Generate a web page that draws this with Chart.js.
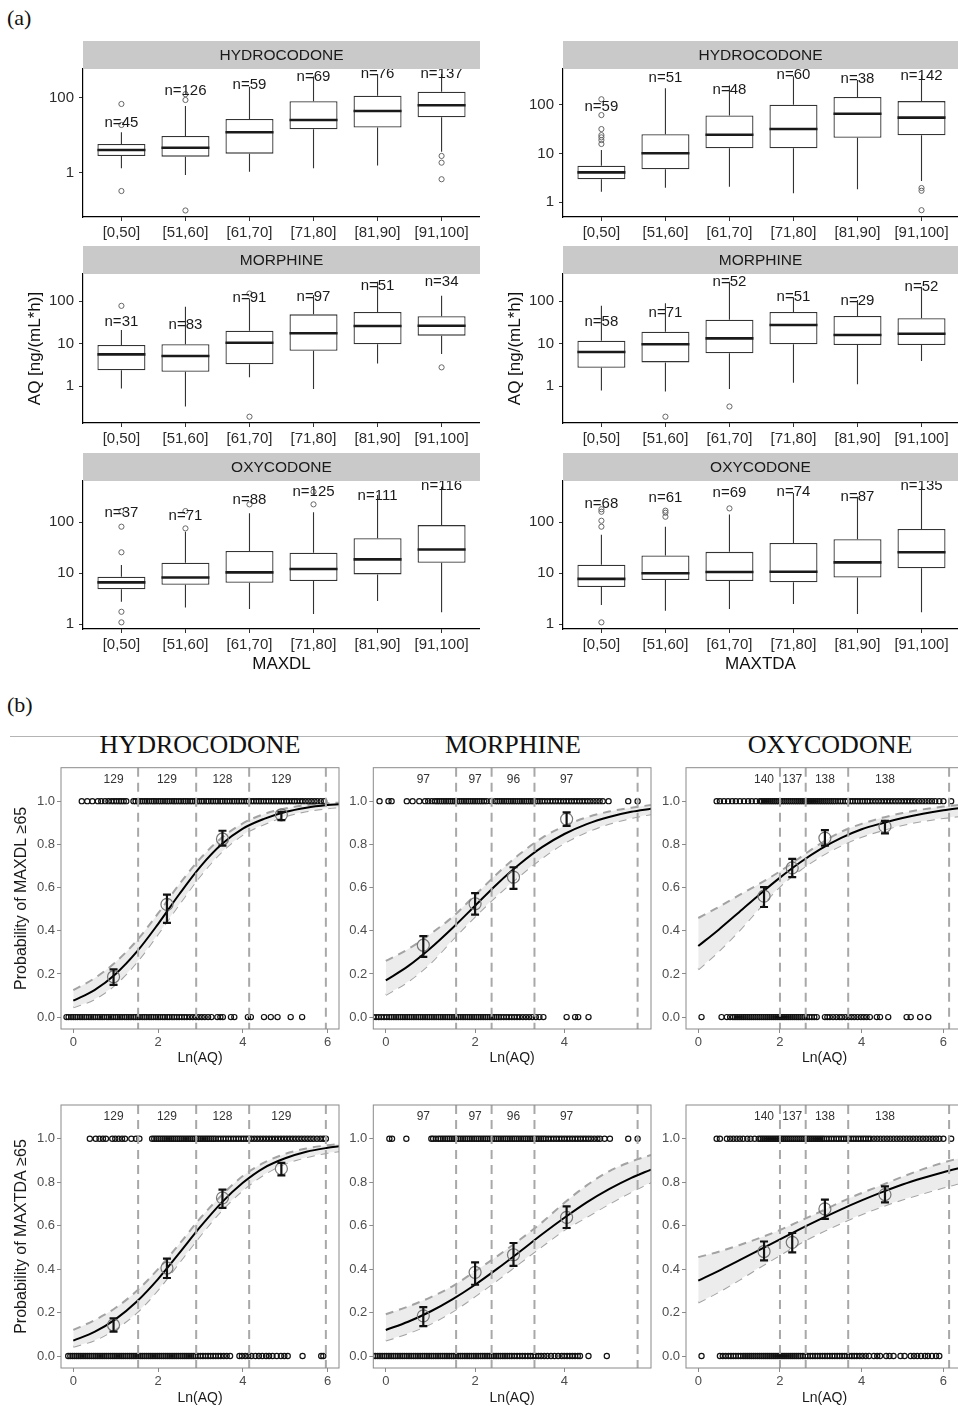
<!DOCTYPE html>
<html>
<head>
<meta charset="utf-8">
<script src="https://cdn.jsdelivr.net/npm/chart.js@4.4.0/dist/chart.umd.min.js"></script>
<style>
  body { margin:0; background:#fff; width:958px; height:1406px; overflow:hidden; position:relative; }
  canvas { position:absolute; }
  .lab { position:absolute; font-family:"Liberation Serif", "Times New Roman", serif; color:#111; line-height:1; white-space:nowrap; }
  .col { text-align:center; font-size:26px; top:732px; }
</style>
</head>
<body>
<div class="lab" style="left:7px;top:7px;font-size:22px">(a)</div>
<div class="lab" style="left:7px;top:694px;font-size:22px">(b)</div>
<div style="position:absolute;left:10px;top:736px;width:948px;height:1px;background:#b4b4b4"></div>
<div class="lab col" style="left:0px;width:400px">HYDROCODONE</div>
<div class="lab col" style="left:363px;width:300px">MORPHINE</div>
<div class="lab col" style="left:680px;width:300px">OXYCODONE</div>

<canvas id="a1" width="480" height="209" style="left:0px;top:38px"></canvas>
<canvas id="a2" width="478" height="209" style="left:480px;top:38px"></canvas>
<canvas id="b1" width="480" height="210" style="left:0px;top:243px"></canvas>
<canvas id="b2" width="478" height="210" style="left:480px;top:243px"></canvas>
<canvas id="c1" width="480" height="231" style="left:0px;top:450px"></canvas>
<canvas id="c2" width="478" height="231" style="left:480px;top:450px"></canvas>

<canvas id="d1" width="340" height="309" style="left:0px;top:760px"></canvas>
<canvas id="d2" width="312" height="309" style="left:340px;top:760px"></canvas>
<canvas id="d3" width="320" height="309" style="left:650px;top:760px"></canvas>
<canvas id="e1" width="340" height="310" style="left:0px;top:1098px"></canvas>
<canvas id="e2" width="312" height="310" style="left:340px;top:1098px"></canvas>
<canvas id="e3" width="320" height="310" style="left:650px;top:1098px"></canvas>

<script>
// ---- (a) box plots, AQ by score group ----
var groups = ['[0,50]', '[51,60]', '[61,70]', '[71,80]', '[81,90]', '[91,100]'];

// hydrocodone / MAXDL
var bxHdlQ1  = [2.84, 2.72, 3.27, 14.6, 16.2, 30.5];
var bxHdlMed = [4.1, 4.7, 12.2, 25.9, 45, 64];
var bxHdlQ3  = [5.9, 9.7, 27.5, 81.5, 115, 147];
var bxHdlLo  = [1.33, 0.88, 1.08, 1.33, 1.57, 3.7];
var bxHdlHi  = [12.2, 61, 200, 370, 437, 437];
var bxHdlOut = [[0,69],[0,19],[0,0.33],[1,88],[1,126],[1,0.1],[5,2.84],[5,1.88],[5,0.68]];
var bxHdlN   = [45, 126, 59, 69, 76, 137];
var bxHdlNy  = [22, 157, 222, 356, 437, 437];

// hydrocodone / MAXTDA
var bxHdaQ1  = [2.97, 4.76, 12.9, 12.9, 21.2, 23.8];
var bxHdaMed = [4.13, 10.2, 24.5, 32, 66, 55];
var bxHdaQ3  = [5.65, 25, 61, 101, 146, 120];
var bxHdaLo  = [1.65, 2.0, 2.09, 1.53, 1.85, 2.74];
var bxHdaHi  = [11.9, 220, 250, 390, 325, 412];
var bxHdaOut = [[0,131],[0,62],[0,32],[0,24],[0,21.6],[0,19],[0,15.8],[5,1.97],[5,1.73],[5,0.69]];
var bxHdaN   = [59, 51, 48, 60, 38, 142];
var bxHdaNy  = [92, 363, 203, 412, 341, 393];

// morphine / MAXDL
var bxMdlQ1  = [2.34, 2.17, 3.24, 6.77, 9.6, 15.3];
var bxMdlMed = [5.57, 5.1, 10.4, 17.4, 25.8, 26.2];
var bxMdlQ3  = [9.2, 9.6, 20, 48.6, 55, 43.7];
var bxMdlLo  = [0.88, 0.33, 1.6, 0.85, 3.4, 5.66];
var bxMdlHi  = [20.8, 73, 115, 138, 283, 133];
var bxMdlOut = [[0,77],[2,150],[2,0.19],[5,2.75]];
var bxMdlN   = [31, 83, 91, 97, 51, 34];
var bxMdlNy  = [31.6, 27, 116, 122, 225, 284];

// morphine / MAXTDA
var bxMdaQ1  = [2.7, 3.6, 5.9, 9.6, 9.2, 9.2];
var bxMdaMed = [6.3, 9.6, 13.2, 27.2, 15.9, 17];
var bxMdaQ3  = [11.6, 19, 36.3, 55, 44.4, 39.2];
var bxMdaLo  = [0.78, 0.74, 0.85, 1.2, 1.1, 3.9];
var bxMdaHi  = [77, 88, 283, 122, 105, 217];
var bxMdaOut = [[1,0.19],[2,0.33]];
var bxMdaN   = [58, 71, 52, 51, 29, 52];
var bxMdaNy  = [32.6, 53, 284, 122, 101, 217];

// oxycodone / MAXDL
var bxOdlQ1  = [4.79, 5.9, 6.45, 7, 9.4, 15.9];
var bxOdlMed = [6.57, 8.2, 10.3, 12, 18.5, 29];
var bxOdlQ3  = [8.46, 15.9, 27, 25, 48, 87];
var bxOdlLo  = [2.74, 2.12, 1.97, 1.57, 2.82, 1.7];
var bxOdlHi  = [14.3, 64.5, 148, 155, 338, 492];
var bxOdlOut = [[0,164],[0,81],[0,25.5],[0,1.74],[0,1.08],[1,164],[1,75],[2,222],[3,222],[3,393]];
var bxOdlN   = [37, 71, 88, 125, 111, 116];
var bxOdlNy  = [152, 131, 270, 387, 323, 508];

// oxycodone / MAXTDA
var bxOdaQ1  = [5.3, 7.3, 7, 6.6, 8.2, 12.4];
var bxOdaMed = [7.7, 9.9, 10.5, 10.6, 16.2, 25.5];
var bxOdaQ3  = [14.5, 22, 26, 39, 46, 73];
var bxOdaLo  = [2.36, 1.82, 1.97, 2.47, 1.57, 1.7];
var bxOdaHi  = [56, 81, 141, 370, 314, 490];
var bxOdaOut = [[0,178],[0,159],[0,106],[0,81],[0,1.08],[1,167],[1,152],[1,127],[2,185]];
var bxOdaN   = [68, 61, 69, 74, 87, 135];
var bxOdaNy  = [225, 300, 365, 393, 314, 508];

// ---- (b) logistic fits vs Ln(AQ) ----
var pTicks = [0, 0.2, 0.4, 0.6, 0.8, 1.0];

var lgHydX    = [0,0.5,1,1.5,2,2.5,3,3.5,4,4.5,5,5.5,6,6.27];
var lgHydMx   = [0.95, 2.21, 3.52, 4.91];
var lgHydCuts = [1.53, 2.9, 4.15, 5.96];
var lgHydN    = [129, 129, 128, 129];

var lgMorX    = [0,0.5,1,1.5,2,2.5,3,3.5,4,4.5,5,5.5,5.94];
var lgMorMx   = [0.84, 2.0, 2.86, 4.05];
var lgMorCuts = [1.575, 2.37, 3.33, 5.64];
var lgMorN    = [97, 97, 96, 97];

var lgOxyX    = [0,0.5,1,1.5,2,2.5,3,3.5,4,4.5,5,5.5,6,6.48];
var lgOxyMx   = [1.61, 2.3, 3.1, 4.57];
var lgOxyCuts = [2.0, 2.63, 3.67, 6.14];
var lgOxyN    = [140, 137, 138, 138];

// MAXDL row
var lgHdlFit = [0.076,0.125,0.2,0.303,0.431,0.569,0.697,0.8,0.873,0.918,0.95,0.97,0.982,0.986];
var lgHdlUp  = [0.125,0.18,0.255,0.355,0.48,0.615,0.735,0.83,0.897,0.94,0.966,0.982,0.99,0.993];
var lgHdlLow = [0.045,0.083,0.152,0.255,0.385,0.523,0.655,0.765,0.845,0.893,0.93,0.953,0.967,0.972];
var lgHdlMy  = [0.187, 0.522, 0.825, 0.937];
var lgHdlElo = [0.149, 0.436, 0.794, 0.912];
var lgHdlEhi = [0.221, 0.567, 0.863, 0.95];
var lgHdlRug1 = [0.2,0.33,0.45,0.58,0.66,0.75,0.83,0.9,0.96,1.02,1.08,1.13,1.19,1.25,1.42,1.47,1.53,1.58,1.63,1.69,1.74,1.79,1.85,1.9,1.95,2.01,2.06,2.11,2.17,2.22,2.27,2.33,2.38,2.43,2.49,2.54,2.6,2.65,2.7,2.76,2.81,2.87,2.92,2.97,3.03,3.08,3.14,3.19,3.25,3.3,3.36,3.41,3.47,3.52,3.58,3.63,3.69,3.75,3.8,3.86,3.91,3.97,4.03,4.09,4.14,4.2,4.26,4.32,4.38,4.43,4.49,4.55,4.61,4.67,4.73,4.79,4.85,4.91,4.97,5.03,5.09,5.16,5.22,5.28,5.35,5.41,5.48,5.55,5.62,5.69,5.76,5.84,5.92];
var lgHdlRug0 = [-0.16,-0.11,-0.05,0.0,0.05,0.1,0.16,0.21,0.26,0.31,0.37,0.42,0.47,0.52,0.58,0.63,0.68,0.73,0.79,0.84,0.89,0.94,1.0,1.05,1.1,1.15,1.21,1.26,1.31,1.36,1.42,1.47,1.52,1.57,1.63,1.68,1.73,1.79,1.84,1.89,1.95,2.0,2.05,2.11,2.16,2.22,2.27,2.33,2.38,2.44,2.5,2.56,2.62,2.68,2.75,2.82,2.89,2.96,3.03,3.1,3.18,3.26,3.4,3.47,3.53,3.72,3.8,4.12,4.19,4.5,4.66,4.82,5.13,5.4];

var lgMdlFit = [0.17,0.236,0.319,0.414,0.516,0.618,0.709,0.787,0.848,0.894,0.927,0.951,0.965];
var lgMdlUp  = [0.26,0.315,0.385,0.465,0.565,0.665,0.755,0.83,0.885,0.925,0.952,0.97,0.982];
var lgMdlLow = [0.103,0.165,0.25,0.36,0.466,0.565,0.655,0.737,0.806,0.857,0.895,0.922,0.94];
var lgMdlMy  = [0.333, 0.525, 0.648, 0.917];
var lgMdlElo = [0.279, 0.475, 0.594, 0.886];
var lgMdlEhi = [0.375, 0.574, 0.694, 0.948];
var lgMdlRug1 = [-0.14,0.06,0.13,0.47,0.6,0.75,0.88,0.95,1.03,1.1,1.15,1.2,1.25,1.3,1.35,1.4,1.45,1.5,1.55,1.6,1.65,1.7,1.75,1.8,1.85,1.9,1.95,2.0,2.05,2.1,2.15,2.2,2.26,2.35,2.45,2.5,2.55,2.6,2.65,2.7,2.75,2.8,2.85,2.9,2.95,3.0,3.05,3.1,3.15,3.2,3.25,3.3,3.35,3.4,3.45,3.5,3.56,3.62,3.68,3.74,3.8,3.86,3.92,3.98,4.04,4.1,4.16,4.22,4.28,4.34,4.4,4.46,4.52,4.58,4.65,4.72,4.79,4.86,4.99,5.43,5.64];
var lgMdlRug0 = [-0.28,-0.22,-0.16,-0.1,-0.04,0.02,0.08,0.13,0.18,0.23,0.28,0.33,0.38,0.43,0.48,0.53,0.58,0.63,0.68,0.73,0.78,0.83,0.88,0.93,0.98,1.03,1.08,1.13,1.18,1.23,1.28,1.33,1.38,1.43,1.48,1.53,1.58,1.63,1.68,1.73,1.78,1.83,1.88,1.93,1.98,2.03,2.08,2.13,2.18,2.23,2.28,2.33,2.38,2.43,2.48,2.53,2.58,2.64,2.7,2.76,2.82,2.88,2.94,3.0,3.07,3.14,3.21,3.28,3.36,3.44,3.53,4.05,4.24,4.31,4.54];

var lgOdlFit = [0.329,0.405,0.486,0.568,0.646,0.717,0.779,0.83,0.87,0.898,0.922,0.942,0.958,0.97];
var lgOdlUp  = [0.459,0.51,0.565,0.618,0.675,0.74,0.805,0.858,0.895,0.923,0.945,0.962,0.975,0.984];
var lgOdlLow = [0.221,0.305,0.4,0.505,0.605,0.682,0.745,0.795,0.835,0.865,0.89,0.908,0.922,0.932];
var lgOdlMy  = [0.56, 0.691, 0.829, 0.883];
var lgOdlElo = [0.51, 0.648, 0.794, 0.851];
var lgOdlEhi = [0.602, 0.733, 0.866, 0.909];
var lgOdlRug1 = [0.45,0.53,0.63,0.73,0.83,0.92,1.02,1.12,1.22,1.31,1.41,1.51,1.56,1.61,1.66,1.71,1.76,1.81,1.86,1.91,1.96,2.01,2.06,2.11,2.16,2.21,2.26,2.31,2.36,2.41,2.46,2.51,2.56,2.61,2.66,2.71,2.76,2.81,2.86,2.91,2.96,3.01,3.06,3.11,3.16,3.21,3.26,3.31,3.36,3.42,3.48,3.54,3.6,3.66,3.72,3.78,3.84,3.9,3.96,4.02,4.08,4.14,4.2,4.27,4.34,4.41,4.48,4.55,4.62,4.69,4.76,4.83,4.9,4.97,5.04,5.11,5.18,5.25,5.32,5.4,5.48,5.56,5.64,5.72,5.8,5.9,6.0,6.19];
var lgOdlRug0 = [0.08,0.57,0.7,0.78,0.85,0.9,0.95,1.0,1.05,1.1,1.15,1.2,1.25,1.3,1.35,1.4,1.45,1.5,1.55,1.6,1.65,1.7,1.75,1.8,1.85,1.9,1.95,2.0,2.05,2.1,2.15,2.2,2.25,2.3,2.35,2.4,2.45,2.5,2.55,2.6,2.66,2.72,2.78,2.84,2.9,3.1,3.16,3.22,3.3,3.38,3.46,3.52,3.6,3.68,3.75,3.82,3.9,3.98,4.05,4.12,4.2,4.37,4.45,4.65,5.1,5.2,5.43,5.63];

// MAXTDA row
var lgHdaFit = [0.071,0.111,0.17,0.251,0.354,0.473,0.595,0.706,0.797,0.866,0.91,0.94,0.958,0.965];
var lgHdaUp  = [0.12,0.165,0.222,0.3,0.4,0.515,0.635,0.74,0.828,0.89,0.93,0.955,0.97,0.976];
var lgHdaLow = [0.043,0.073,0.125,0.2,0.305,0.43,0.555,0.67,0.763,0.835,0.885,0.915,0.935,0.942];
var lgHdaMy  = [0.143, 0.405, 0.728, 0.862];
var lgHdaElo = [0.112, 0.359, 0.682, 0.831];
var lgHdaEhi = [0.174, 0.448, 0.766, 0.889];
var lgHdaRug1 = [0.39,0.53,0.62,0.7,0.77,0.92,0.99,1.07,1.15,1.22,1.37,1.48,1.56,1.86,1.91,1.96,2.01,2.06,2.11,2.16,2.21,2.26,2.31,2.36,2.41,2.46,2.51,2.56,2.61,2.66,2.71,2.76,2.81,2.86,2.91,2.96,3.01,3.06,3.11,3.16,3.21,3.26,3.31,3.36,3.42,3.48,3.54,3.6,3.66,3.72,3.78,3.84,3.9,3.96,4.02,4.08,4.14,4.2,4.27,4.34,4.41,4.48,4.55,4.62,4.69,4.76,4.83,4.9,4.97,5.04,5.11,5.18,5.25,5.32,5.39,5.46,5.53,5.6,5.67,5.75,5.83,5.9,5.96];
var lgHdaRug0 = [-0.12,-0.07,-0.02,0.03,0.08,0.13,0.18,0.23,0.28,0.33,0.38,0.43,0.48,0.53,0.58,0.63,0.68,0.73,0.78,0.83,0.88,0.93,0.98,1.03,1.08,1.13,1.18,1.23,1.28,1.33,1.38,1.43,1.48,1.53,1.58,1.63,1.68,1.73,1.78,1.83,1.88,1.93,1.98,2.03,2.08,2.13,2.18,2.23,2.28,2.33,2.38,2.43,2.48,2.53,2.58,2.63,2.68,2.73,2.78,2.83,2.88,2.94,3.0,3.06,3.12,3.18,3.24,3.3,3.36,3.42,3.48,3.55,3.62,3.7,3.92,3.98,4.06,4.13,4.2,4.3,4.38,4.46,4.55,4.62,4.7,4.8,4.9,4.98,5.06,5.41,5.85,5.9];

var lgMdaFit = [0.12,0.158,0.205,0.262,0.328,0.402,0.48,0.56,0.636,0.707,0.768,0.82,0.858];
var lgMdaUp  = [0.192,0.228,0.27,0.322,0.39,0.46,0.535,0.615,0.705,0.785,0.85,0.895,0.925];
var lgMdaLow = [0.071,0.105,0.148,0.205,0.275,0.35,0.428,0.505,0.58,0.64,0.7,0.755,0.8];
var lgMdaMy  = [0.185, 0.385, 0.466, 0.638];
var lgMdaElo = [0.138, 0.328, 0.415, 0.589];
var lgMdaEhi = [0.225, 0.431, 0.52, 0.689];
var lgMdaRug1 = [0.08,0.14,0.46,1.02,1.06,1.12,1.18,1.23,1.28,1.33,1.38,1.43,1.48,1.53,1.58,1.63,1.68,1.73,1.78,1.83,1.88,1.93,1.98,2.03,2.08,2.13,2.18,2.23,2.28,2.33,2.38,2.43,2.48,2.53,2.58,2.63,2.68,2.73,2.78,2.83,2.88,2.93,2.98,3.03,3.08,3.13,3.18,3.23,3.28,3.33,3.38,3.43,3.48,3.53,3.58,3.64,3.7,3.76,3.82,3.88,3.94,4.0,4.06,4.12,4.18,4.24,4.3,4.36,4.42,4.48,4.54,4.6,4.67,4.74,4.8,4.9,5.02,5.43,5.64];
var lgMdaRug0 = [-0.28,-0.23,-0.18,-0.13,-0.08,-0.03,0.02,0.07,0.12,0.17,0.22,0.27,0.32,0.37,0.42,0.47,0.52,0.57,0.62,0.67,0.72,0.77,0.82,0.87,0.92,0.97,1.02,1.07,1.12,1.17,1.22,1.27,1.32,1.37,1.42,1.47,1.52,1.57,1.62,1.67,1.72,1.77,1.82,1.87,1.92,1.97,2.02,2.07,2.12,2.17,2.22,2.27,2.32,2.37,2.42,2.47,2.52,2.57,2.62,2.67,2.72,2.77,2.82,2.88,2.94,3.0,3.06,3.12,3.18,3.24,3.3,3.36,3.42,3.48,3.55,3.62,3.7,3.78,3.86,3.94,4.0,4.06,4.12,4.18,4.24,4.3,4.35,4.54,4.95];

var lgOdaFit = [0.347,0.392,0.44,0.488,0.537,0.585,0.631,0.675,0.716,0.754,0.789,0.819,0.846,0.869];
var lgOdaUp  = [0.455,0.48,0.51,0.543,0.58,0.622,0.665,0.71,0.75,0.787,0.825,0.86,0.89,0.915];
var lgOdaLow = [0.246,0.295,0.35,0.408,0.465,0.52,0.568,0.612,0.652,0.688,0.72,0.748,0.775,0.8];
var lgOdaMy  = [0.481, 0.523, 0.677, 0.743];
var lgOdaElo = [0.44, 0.477, 0.631, 0.707];
var lgOdaEhi = [0.527, 0.566, 0.72, 0.781];
var lgOdaRug1 = [0.45,0.53,0.7,0.78,0.86,0.94,1.02,1.1,1.2,1.28,1.38,1.48,1.53,1.58,1.63,1.68,1.73,1.78,1.83,1.88,1.93,1.98,2.03,2.08,2.13,2.18,2.23,2.28,2.33,2.38,2.43,2.48,2.53,2.58,2.63,2.68,2.73,2.78,2.83,2.88,2.93,2.98,3.03,3.08,3.14,3.2,3.26,3.32,3.38,3.44,3.5,3.56,3.62,3.68,3.74,3.8,3.86,3.92,3.98,4.04,4.1,4.16,4.22,4.3,4.38,4.46,4.54,4.62,4.7,4.78,4.86,4.94,5.02,5.1,5.18,5.26,5.34,5.42,5.5,5.58,5.66,5.74,5.82,5.9,6.0,6.19];
var lgOdaRug0 = [0.08,0.53,0.6,0.67,0.74,0.8,0.86,0.92,0.98,1.04,1.1,1.15,1.2,1.25,1.3,1.35,1.4,1.45,1.5,1.55,1.6,1.65,1.7,1.75,1.8,1.85,1.9,1.95,2.0,2.05,2.1,2.15,2.2,2.25,2.3,2.35,2.4,2.45,2.5,2.56,2.62,2.68,2.74,2.8,2.86,2.92,2.98,3.04,3.1,3.16,3.22,3.28,3.34,3.4,3.46,3.52,3.58,3.64,3.7,3.76,3.82,3.88,3.95,4.02,4.1,4.18,4.3,4.38,4.45,4.6,4.68,4.78,4.95,5.05,5.2,5.28,5.36,5.45,5.55,5.62,5.72,5.82,5.9];

var sans = "'Liberation Sans', Arial, sans-serif";
Chart.defaults.font.family = sans;
Chart.defaults.animation = false;

// ---------- box plot panels ----------
var boxInfo = {};

var boxExtras = {
  id: 'boxExtras',
  beforeDatasetsDraw: function(chart) {
    var d = boxInfo[chart.canvas.id];
    var ctx = chart.ctx, xs = chart.scales.x, ys = chart.scales.y;
    ctx.save();
    ctx.strokeStyle = '#333';
    ctx.lineWidth = 1.1;
    d.q1.forEach(function(v, i) {
      var px = xs.getPixelForValue(i + 1);
      ctx.beginPath();
      ctx.moveTo(px, ys.getPixelForValue(d.hi[i]));
      ctx.lineTo(px, ys.getPixelForValue(d.q3[i]));
      ctx.moveTo(px, ys.getPixelForValue(v));
      ctx.lineTo(px, ys.getPixelForValue(d.lo[i]));
      ctx.stroke();
    });
    ctx.restore();
  },
  afterDatasetsDraw: function(chart) {
    var d = boxInfo[chart.canvas.id];
    var ctx = chart.ctx, xs = chart.scales.x, ys = chart.scales.y;
    var meta = chart.getDatasetMeta(0);
    ctx.save();
    ctx.strokeStyle = '#1a1a1a';
    ctx.lineWidth = 2.6;
    meta.data.forEach(function(bar, i) {
      var py = ys.getPixelForValue(d.med[i]);
      ctx.beginPath();
      ctx.moveTo(bar.x - bar.width / 2, py);
      ctx.lineTo(bar.x + bar.width / 2, py);
      ctx.stroke();
    });
    ctx.fillStyle = '#1a1a1a';
    ctx.font = '15px ' + sans;
    ctx.textAlign = 'center';
    ctx.textBaseline = 'middle';
    d.n.forEach(function(n, i) {
      ctx.fillText('n=' + n, xs.getPixelForValue(i + 1), ys.getPixelForValue(d.ny[i]));
    });
    ctx.restore();
  },
  afterDraw: function(chart) {
    var d = boxInfo[chart.canvas.id];
    var ctx = chart.ctx, a = chart.chartArea;
    ctx.save();
    ctx.fillStyle = '#c9c9c9';
    ctx.fillRect(a.left, a.top - 28, a.right - a.left, 28);
    ctx.fillStyle = '#1a1a1a';
    ctx.font = '15.5px ' + sans;
    ctx.textAlign = 'center';
    ctx.textBaseline = 'middle';
    ctx.fillText(d.title, (a.left + a.right) / 2, a.top - 13.5);
    ctx.restore();
  }
};

function boxChart(id, d) {
  boxInfo[id] = d;
  return new Chart(document.getElementById(id), {
    type: 'bar',
    data: {
      datasets: [
        {
          data: d.q1.map(function(v, i) { return { x: i + 1, y: [v, d.q3[i]] }; }),
          backgroundColor: '#ffffff',
          borderColor: '#333333',
          borderWidth: 1.3,
          borderSkipped: false,
          barPercentage: 0.75,
          categoryPercentage: 1,
          order: 2
        },
        {
          type: 'scatter',
          data: d.out.map(function(p) { return { x: p[0] + 1, y: p[1] }; }),
          pointRadius: 2.6,
          borderColor: '#666666',
          backgroundColor: 'rgba(0,0,0,0)',
          borderWidth: 1,
          order: 1
        }
      ]
    },
    options: {
      responsive: false,
      animation: false,
      layout: { autoPadding: false, padding: { top: 31, left: 0, right: 0, bottom: 0 } },
      plugins: { legend: { display: false }, tooltip: { enabled: false } },
      scales: {
        x: {
          type: 'linear', min: 0.4, max: d.xmax, offset: false,
          afterBuildTicks: function(s) { s.ticks = groups.map(function(g, i) { return { value: i + 1 }; }); },
          afterFit: function(s) { s.height = d.axisH; s.paddingLeft = 0; s.paddingRight = 0; },
          grid: { offset: false, drawOnChartArea: false, tickLength: 4, color: '#333' },
          border: { display: true, color: '#000', width: 1.2 },
          ticks: { padding: 3, color: '#2b2b2b', font: { size: 15 }, autoSkip: false, maxRotation: 0, minRotation: 0,
                   callback: function(v) { return groups[Math.round(v) - 1]; } },
          title: { display: !!d.xTitle, text: d.xTitle || '', color: '#111', font: { size: 17 }, padding: { top: 0, bottom: 6 } }
        },
        y: {
          type: 'logarithmic', min: d.ymin, max: d.ymax,
          afterBuildTicks: function(s) { s.ticks = d.yticks.map(function(v) { return { value: v }; }); },
          afterFit: function(s) { s.width = 83; s.paddingTop = 0; s.paddingBottom = 0; },
          grid: { drawOnChartArea: false, tickLength: 4, color: '#333' },
          border: { display: true, color: '#000', width: 1.2 },
          ticks: { padding: 5, color: '#2b2b2b', font: { size: 15 }, callback: function(v) { return String(v); } },
          title: { display: !!d.yTitle, text: d.yTitle || '', color: '#111', font: { size: 17 }, padding: { top: 25, bottom: 0 } }
        }
      }
    },
    plugins: [boxExtras]
  });
}

boxChart('a1', { title: 'HYDROCODONE', q1: bxHdlQ1, med: bxHdlMed, q3: bxHdlQ3, lo: bxHdlLo, hi: bxHdlHi, out: bxHdlOut, n: bxHdlN, ny: bxHdlNy,
  ymin: 0.067, ymax: 590, yticks: [1, 100], xmax: 6.6, axisH: 30 });
boxChart('a2', { title: 'HYDROCODONE', q1: bxHdaQ1, med: bxHdaMed, q3: bxHdaQ3, lo: bxHdaLo, hi: bxHdaHi, out: bxHdaOut, n: bxHdaN, ny: bxHdaNy,
  ymin: 0.5, ymax: 548, yticks: [1, 10, 100], xmax: 6.57, axisH: 30 });
boxChart('b1', { title: 'MORPHINE', q1: bxMdlQ1, med: bxMdlMed, q3: bxMdlQ3, lo: bxMdlLo, hi: bxMdlHi, out: bxMdlOut, n: bxMdlN, ny: bxMdlNy,
  ymin: 0.135, ymax: 432, yticks: [1, 10, 100], xmax: 6.6, axisH: 30, yTitle: 'AQ [ng/(mL*h)]' });
boxChart('b2', { title: 'MORPHINE', q1: bxMdaQ1, med: bxMdaMed, q3: bxMdaQ3, lo: bxMdaLo, hi: bxMdaHi, out: bxMdaOut, n: bxMdaN, ny: bxMdaNy,
  ymin: 0.135, ymax: 432, yticks: [1, 10, 100], xmax: 6.57, axisH: 30, yTitle: 'AQ [ng/(mL*h)]' });
boxChart('c1', { title: 'OXYCODONE', q1: bxOdlQ1, med: bxOdlMed, q3: bxOdlQ3, lo: bxOdlLo, hi: bxOdlHi, out: bxOdlOut, n: bxOdlN, ny: bxOdlNy,
  ymin: 0.8, ymax: 637, yticks: [1, 10, 100], xmax: 6.6, axisH: 52, xTitle: 'MAXDL' });
boxChart('c2', { title: 'OXYCODONE', q1: bxOdaQ1, med: bxOdaMed, q3: bxOdaQ3, lo: bxOdaLo, hi: bxOdaHi, out: bxOdaOut, n: bxOdaN, ny: bxOdaNy,
  ymin: 0.8, ymax: 637, yticks: [1, 10, 100], xmax: 6.57, axisH: 52, xTitle: 'MAXTDA' });

// ---------- logistic panels ----------
var logitInfo = {};

var logitExtras = {
  id: 'logitExtras',
  afterDatasetsDraw: function(chart) {
    var d = logitInfo[chart.canvas.id];
    var ctx = chart.ctx, xs = chart.scales.x, ys = chart.scales.y, a = chart.chartArea;
    ctx.save();
    ctx.strokeStyle = '#a8a8a8';
    ctx.lineWidth = 2;
    ctx.setLineDash([9, 6]);
    d.cuts.forEach(function(v) {
      var px = xs.getPixelForValue(v);
      ctx.beginPath();
      ctx.moveTo(px, a.top);
      ctx.lineTo(px, a.bottom);
      ctx.stroke();
    });
    ctx.setLineDash([]);
    ctx.fillStyle = '#333';
    ctx.font = '12px ' + sans;
    ctx.textAlign = 'center';
    ctx.textBaseline = 'middle';
    d.n.forEach(function(t, i) {
      ctx.fillText(String(t), xs.getPixelForValue(d.mx[i]), ys.getPixelForValue(1.1));
    });
    ctx.strokeStyle = '#111';
    ctx.lineWidth = 2.2;
    d.mx.forEach(function(v, i) {
      var px = xs.getPixelForValue(v);
      var y1 = ys.getPixelForValue(d.elo[i]), y2 = ys.getPixelForValue(d.ehi[i]);
      ctx.beginPath();
      ctx.moveTo(px, y1); ctx.lineTo(px, y2);
      ctx.moveTo(px - 4, y1); ctx.lineTo(px + 4, y1);
      ctx.moveTo(px - 4, y2); ctx.lineTo(px + 4, y2);
      ctx.stroke();
    });
    ctx.restore();
  },
  afterDraw: function(chart) {
    var ctx = chart.ctx, a = chart.chartArea;
    ctx.save();
    ctx.strokeStyle = '#8a8a8a';
    ctx.lineWidth = 1;
    ctx.strokeRect(a.left, a.top, a.right - a.left, a.bottom - a.top);
    ctx.restore();
  }
};

function logitChart(id, d) {
  logitInfo[id] = d;
  function curve(arr) { return d.x.map(function(v, i) { return { x: v, y: arr[i] }; }); }
  function rug(arr, yv) { return arr.map(function(v) { return { x: v, y: yv }; }); }
  return new Chart(document.getElementById(id), {
    type: 'line',
    data: {
      datasets: [
        { data: curve(d.up), borderColor: '#a3a3a3', borderWidth: 2, borderDash: [8, 6], pointRadius: 0,
          fill: '+1', backgroundColor: '#ececec', cubicInterpolationMode: 'monotone', order: 10 },
        { data: curve(d.low), borderColor: '#a3a3a3', borderWidth: 2, borderDash: [8, 6], pointRadius: 0,
          fill: false, cubicInterpolationMode: 'monotone', order: 10 },
        { data: curve(d.fit), borderColor: '#000', borderWidth: 2, pointRadius: 0, fill: false,
          cubicInterpolationMode: 'monotone', order: 3 },
        { type: 'scatter', data: rug(d.rug1, 1), pointRadius: 2.6, borderColor: '#111', borderWidth: 1.2,
          backgroundColor: 'rgba(0,0,0,0)', order: 6 },
        { type: 'scatter', data: rug(d.rug0, 0), pointRadius: 2.6, borderColor: '#111', borderWidth: 1.2,
          backgroundColor: 'rgba(0,0,0,0)', order: 6 },
        { type: 'scatter', data: d.mx.map(function(v, i) { return { x: v, y: d.my[i] }; }), pointRadius: 6,
          borderColor: '#777', borderWidth: 1.2, backgroundColor: 'rgba(0,0,0,0)', order: 1 }
      ]
    },
    options: {
      responsive: false,
      animation: false,
      layout: { autoPadding: false, padding: { top: d.padTop, right: d.padRight, left: 0, bottom: 0 } },
      plugins: { legend: { display: false }, tooltip: { enabled: false } },
      scales: {
        x: {
          type: 'linear', min: d.xmin, max: d.xmax,
          afterBuildTicks: function(s) { s.ticks = d.xticks.map(function(v) { return { value: v }; }); },
          afterFit: function(s) { s.height = 40; s.paddingLeft = 0; s.paddingRight = 0; },
          grid: { drawOnChartArea: false, tickLength: 4, color: '#8a8a8a' },
          border: { display: false },
          ticks: { padding: 2, color: '#4d4d4d', font: { size: 13 }, autoSkip: false, maxRotation: 0, minRotation: 0 },
          title: { display: true, text: 'Ln(AQ)', color: '#1a1a1a', font: { size: 14 }, padding: { top: 0, bottom: d.titlePad } }
        },
        y: {
          type: 'linear', min: -0.055, max: 1.155,
          afterBuildTicks: function(s) { s.ticks = pTicks.map(function(v) { return { value: v }; }); },
          afterFit: function(s) { s.width = d.axisW; s.paddingTop = 0; s.paddingBottom = 0; },
          grid: { drawOnChartArea: false, tickLength: 4, color: '#8a8a8a' },
          border: { display: false },
          ticks: { padding: 2, color: '#4d4d4d', font: { size: 13 }, callback: function(v) { return Number(v).toFixed(1); } },
          title: { display: !!d.yTitle, text: d.yTitle || '', color: '#1a1a1a', font: { size: 16 }, padding: { top: 12.4, bottom: 0 } }
        }
      }
    },
    plugins: [logitExtras]
  });
}

logitChart('d1', { x: lgHydX, fit: lgHdlFit, up: lgHdlUp, low: lgHdlLow, rug1: lgHdlRug1, rug0: lgHdlRug0,
  mx: lgHydMx, my: lgHdlMy, elo: lgHdlElo, ehi: lgHdlEhi, cuts: lgHydCuts, n: lgHydN,
  xmin: -0.29, xmax: 6.27, xticks: [0, 2, 4, 6], yTitle: 'Probability of MAXDL \u226565',
  axisW: 61, padTop: 7.7, padRight: 1, titlePad: 2.3 });
logitChart('d2', { x: lgMorX, fit: lgMdlFit, up: lgMdlUp, low: lgMdlLow, rug1: lgMdlRug1, rug0: lgMdlRug0,
  mx: lgMorMx, my: lgMdlMy, elo: lgMdlElo, ehi: lgMdlEhi, cuts: lgMorCuts, n: lgMorN,
  xmin: -0.28, xmax: 5.94, xticks: [0, 2, 4],
  axisW: 33.3, padTop: 7.7, padRight: 1, titlePad: 2.3 });
logitChart('d3', { x: lgOxyX, fit: lgOdlFit, up: lgOdlUp, low: lgOdlLow, rug1: lgOdlRug1, rug0: lgOdlRug0,
  mx: lgOxyMx, my: lgOdlMy, elo: lgOdlElo, ehi: lgOdlEhi, cuts: lgOxyCuts, n: lgOxyN,
  xmin: -0.3, xmax: 6.48, xticks: [0, 2, 4, 6],
  axisW: 36, padTop: 7.7, padRight: 7, titlePad: 2.3 });

logitChart('e1', { x: lgHydX, fit: lgHdaFit, up: lgHdaUp, low: lgHdaLow, rug1: lgHdaRug1, rug0: lgHdaRug0,
  mx: lgHydMx, my: lgHdaMy, elo: lgHdaElo, ehi: lgHdaEhi, cuts: lgHydCuts, n: lgHydN,
  xmin: -0.29, xmax: 6.27, xticks: [0, 2, 4, 6], yTitle: 'Probability of MAXTDA \u226565',
  axisW: 61, padTop: 7, padRight: 1, titlePad: 1.3 });
logitChart('e2', { x: lgMorX, fit: lgMdaFit, up: lgMdaUp, low: lgMdaLow, rug1: lgMdaRug1, rug0: lgMdaRug0,
  mx: lgMorMx, my: lgMdaMy, elo: lgMdaElo, ehi: lgMdaEhi, cuts: lgMorCuts, n: lgMorN,
  xmin: -0.28, xmax: 5.94, xticks: [0, 2, 4],
  axisW: 33.3, padTop: 7, padRight: 1, titlePad: 1.3 });
logitChart('e3', { x: lgOxyX, fit: lgOdaFit, up: lgOdaUp, low: lgOdaLow, rug1: lgOdaRug1, rug0: lgOdaRug0,
  mx: lgOxyMx, my: lgOdaMy, elo: lgOdaElo, ehi: lgOdaEhi, cuts: lgOxyCuts, n: lgOxyN,
  xmin: -0.3, xmax: 6.48, xticks: [0, 2, 4, 6],
  axisW: 36, padTop: 7, padRight: 7, titlePad: 1.3 });
</script>
</body>
</html>
